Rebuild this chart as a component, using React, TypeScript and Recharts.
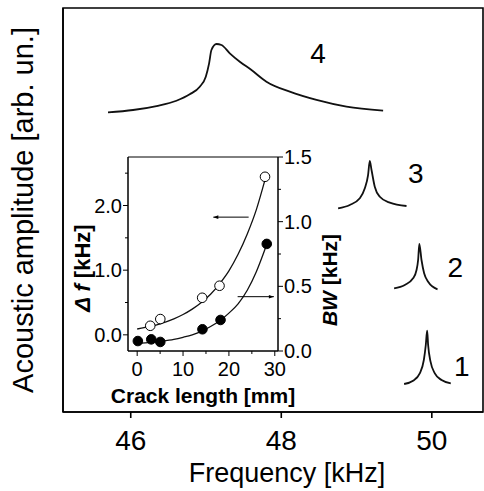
import React from 'react';
import {
  LineChart,
  ComposedChart,
  Line,
  Scatter,
  XAxis,
  YAxis,
  ReferenceArea,
  ReferenceDot,
  Label,
} from 'recharts';

const FONT = '"Liberation Sans", Arial, Helvetica, sans-serif';

// ---------- main chart data ----------
const freqTicks = [46, 48, 50];
const freqDomain = [45.1, 50.68];

const curve4 = [
  { f: 45.698, a: 74.18 },
  { f: 46.031, a: 74.75 },
  { f: 46.342, a: 75.74 },
  { f: 46.607, a: 77.05 },
  { f: 46.784, a: 78.64 },
  { f: 46.917, a: 80.52 },
  { f: 46.997, a: 83.0 },
  { f: 47.041, a: 86.31 },
  { f: 47.072, a: 89.6 },
  { f: 47.139, a: 91.09 },
  { f: 47.205, a: 90.84 },
  { f: 47.316, a: 88.79 },
  { f: 47.449, a: 86.71 },
  { f: 47.6, a: 84.7 },
  { f: 47.803, a: 81.76 },
  { f: 48.113, a: 79.28 },
  { f: 48.468, a: 77.23 },
  { f: 48.866, a: 75.57 },
  { f: 49.353, a: 74.58 },
];

const curve3 = [
  { f: 48.755, a: 50.42 },
  { f: 48.91, a: 51.24 },
  { f: 49.043, a: 52.9 },
  { f: 49.11, a: 55.37 },
  { f: 49.153, a: 58.66 },
  { f: 49.176, a: 62.13 },
  { f: 49.199, a: 59.9 },
  { f: 49.242, a: 55.77 },
  { f: 49.309, a: 53.29 },
  { f: 49.442, a: 51.81 },
  { f: 49.664, a: 50.99 },
];

const curve2 = [
  { f: 49.499, a: 30.62 },
  { f: 49.641, a: 31.44 },
  { f: 49.751, a: 33.09 },
  { f: 49.797, a: 35.15 },
  { f: 49.818, a: 37.62 },
  { f: 49.834, a: 41.58 },
  { f: 49.863, a: 37.62 },
  { f: 49.898, a: 34.33 },
  { f: 49.951, a: 32.25 },
  { f: 50.076, a: 30.37 },
];

const curve1 = [
  { f: 49.632, a: 6.93 },
  { f: 49.751, a: 7.75 },
  { f: 49.84, a: 9.58 },
  { f: 49.894, a: 12.87 },
  { f: 49.92, a: 16.58 },
  { f: 49.938, a: 20.12 },
  { f: 49.951, a: 16.58 },
  { f: 49.983, a: 12.45 },
  { f: 50.04, a: 9.58 },
  { f: 50.129, a: 7.92 },
  { f: 50.252, a: 7.1 },
];

const curveLabels = [
  { f: 48.49, a: 88.74, text: '4' },
  { f: 49.787, a: 59.03, text: '3' },
  { f: 50.312, a: 35.77, text: '2' },
  { f: 50.399, a: 11.39, text: '1' },
];

// ---------- inset data ----------
const crackDomain = [-2, 30.7];
const crackMajor = [0, 10, 20, 30];
const crackTicks = [0, 5, 10, 15, 20, 25, 30];
const dfDomain = [-0.25, 2.75];
const dfMajor = [0, 1, 2];
const dfTicks = [0, 0.5, 1, 1.5, 2, 2.5];
const bwDomain = [0, 1.5];
const bwMajor = [0, 0.5, 1, 1.5];
const bwTicks = [0, 0.25, 0.5, 0.75, 1, 1.25, 1.5];

const dfPoints = [
  { x: 2.85, y: 0.14 },
  { x: 5.04, y: 0.244 },
  { x: 14.17, y: 0.573 },
  { x: 17.95, y: 0.759 },
  { x: 27.87, y: 2.444 },
];

const bwPoints = [
  { x: 0.15, y: 0.077 },
  { x: 3.07, y: 0.09 },
  { x: 5.04, y: 0.07 },
  { x: 14.23, y: 0.168 },
  { x: 18.17, y: 0.24 },
  { x: 28.25, y: 0.828 },
];

const dfFit = [
  { x: 0, y: 0.09 },
  { x: 3, y: 0.133 },
  { x: 5, y: 0.171 },
  { x: 8, y: 0.247 },
  { x: 10, y: 0.314 },
  { x: 12, y: 0.398 },
  { x: 14, y: 0.501 },
  { x: 16, y: 0.627 },
  { x: 18, y: 0.793 },
  { x: 20, y: 0.99 },
  { x: 22, y: 1.245 },
  { x: 24, y: 1.56 },
  { x: 26, y: 1.94 },
  { x: 27.8, y: 2.38 },
];

const bwFit = [
  { x: 0, y: 0.06 },
  { x: 3, y: 0.067 },
  { x: 5, y: 0.075 },
  { x: 8, y: 0.09 },
  { x: 10, y: 0.106 },
  { x: 12, y: 0.125 },
  { x: 14, y: 0.152 },
  { x: 16, y: 0.189 },
  { x: 18, y: 0.234 },
  { x: 20, y: 0.293 },
  { x: 22, y: 0.365 },
  { x: 24, y: 0.47 },
  { x: 26, y: 0.615 },
  { x: 28, y: 0.8 },
];

const dfArrow = [
  { x: 16.6, y: 1.82 },
  { x: 24.3, y: 1.82 },
];
const bwArrow = [
  { x: 21.9, y: 0.42 },
  { x: 29.8, y: 0.42 },
];

// ---------- renderers ----------
const MainYLabel = (props: any) => {
  const vb = props.viewBox;
  const cx = 33;
  const cy = vb.y + vb.height / 2;
  return (
    <text
      x={cx}
      y={cy}
      transform={`rotate(-90 ${cx} ${cy})`}
      textAnchor="middle"
      fontFamily={FONT}
      fontSize={29}
      fill="#000"
    >
      Acoustic amplitude [arb. un.]
    </text>
  );
};

const MainXLabel = (props: any) => {
  const vb = props.viewBox;
  return (
    <text
      x={vb.x + vb.width / 2 + 14}
      y={vb.y + 70}
      textAnchor="middle"
      fontFamily={FONT}
      fontSize={27}
      fill="#000"
    >
      Frequency [kHz]
    </text>
  );
};

const InsetXTick = (props: any) => {
  const { x, y, payload } = props;
  const v = payload.value;
  const major = crackMajor.includes(v);
  return (
    <g>
      <line x1={x} x2={x} y1={y} y2={y + (major ? 5 : 3)} stroke="#000" strokeWidth={1} />
      {major && (
        <text x={x} y={y + 11} dy="0.71em" textAnchor="middle" fontFamily={FONT} fontSize={20} fill="#000">
          {v}
        </text>
      )}
    </g>
  );
};

const InsetDfTick = (props: any) => {
  const { x, y, payload } = props;
  const v = payload.value;
  const major = dfMajor.includes(v);
  return (
    <g>
      <line x1={x} x2={x - (major ? 5 : 3)} y1={y} y2={y} stroke="#000" strokeWidth={1} />
      {major && (
        <text x={x - 6} y={y} dy="0.355em" textAnchor="end" fontFamily={FONT} fontSize={20} fill="#000">
          {v.toFixed(1)}
        </text>
      )}
    </g>
  );
};

const InsetBwTick = (props: any) => {
  const { x, y, payload } = props;
  const v = payload.value;
  const major = bwMajor.includes(v);
  return (
    <g>
      <line x1={x} x2={x + (major ? 5 : 3)} y1={y} y2={y} stroke="#000" strokeWidth={1} />
      {major && (
        <text x={x + 6} y={y} dy="0.355em" textAnchor="start" fontFamily={FONT} fontSize={20} fill="#000">
          {v.toFixed(1)}
        </text>
      )}
    </g>
  );
};

const InsetXLabel = (props: any) => {
  const vb = props.viewBox;
  return (
    <text
      x={vb.x + vb.width / 2}
      y={vb.y + 52}
      textAnchor="middle"
      fontFamily={FONT}
      fontSize={21}
      fontWeight="bold"
      fill="#000"
    >
      Crack length [mm]
    </text>
  );
};

const InsetDfLabel = (props: any) => {
  const cx = 90;
  const cy = 268;
  return (
    <text
      x={cx}
      y={cy}
      transform={`rotate(-90 ${cx} ${cy})`}
      textAnchor="middle"
      fontFamily={FONT}
      fontSize={22}
      fontWeight="bold"
      fill="#000"
    >
      <tspan fontStyle="italic">Δ f</tspan>
      <tspan> [kHz]</tspan>
    </text>
  );
};

const InsetBwLabel = (props: any) => {
  const cx = 337;
  const cy = 280;
  return (
    <text
      x={cx}
      y={cy}
      transform={`rotate(-90 ${cx} ${cy})`}
      textAnchor="middle"
      fontFamily={FONT}
      fontSize={21}
      fontWeight="bold"
      fill="#000"
    >
      <tspan fontStyle="italic">BW</tspan>
      <tspan> [kHz]</tspan>
    </text>
  );
};

const leftHead = (p: any) =>
  p.index === 0 ? (
    <path key={`lh${p.index}`} d={`M${p.cx},${p.cy} l5,-1.8 l0,3.6 z`} fill="#000" />
  ) : (
    <g key={`lh${p.index}`} />
  );

const rightHead = (p: any) =>
  p.index === 1 ? (
    <path key={`rh${p.index}`} d={`M${p.cx},${p.cy} l-5,-1.8 l0,3.6 z`} fill="#000" />
  ) : (
    <g key={`rh${p.index}`} />
  );

const OpenCircle = (p: any) => (
  <circle cx={p.cx} cy={p.cy} r={4.8} fill="#fff" stroke="#000" strokeWidth={1} />
);
const FilledCircle = (p: any) => <circle cx={p.cx} cy={p.cy} r={4.8} fill="#000" stroke="#000" />;

export default function App() {
  const W = 484;
  const H = 491;
  const lineStroke = '#111';
  return (
    <div style={{ position: 'absolute', left: 0, top: 0, width: W, height: H, background: '#fff' }}>
      <div style={{ position: 'absolute', left: 0, top: 0 }}>
        <LineChart width={W} height={H} margin={{ top: 8, right: 1, left: 0, bottom: 0 }}>
          <XAxis
            type="number"
            dataKey="f"
            domain={freqDomain}
            allowDataOverflow
            ticks={freqTicks}
            interval={0}
            height={79}
            tickSize={6}
            tickMargin={12}
            stroke="#000"
            strokeWidth={1.6}
            tick={{ fill: '#000', fontSize: 28, fontFamily: FONT }}
            label={<Label content={MainXLabel} />}
          />
          <YAxis
            type="number"
            domain={[0, 100]}
            allowDataOverflow
            width={63}
            tick={false}
            tickLine={false}
            stroke="#000"
            strokeWidth={1.6}
            label={<Label content={MainYLabel} />}
          />
          <ReferenceArea
            x1={freqDomain[0]}
            x2={freqDomain[1]}
            y1={0}
            y2={100}
            stroke="#000"
            strokeWidth={1.6}
            fill="none"
            fillOpacity={0}
          />
          {[curve4, curve3, curve2, curve1].map((c, i) => (
            <Line
              key={i}
              data={c}
              dataKey="a"
              type="monotone"
              stroke={lineStroke}
              strokeWidth={1.8}
              dot={false}
              isAnimationActive={false}
            />
          ))}
          {curveLabels.map((l) => (
            <ReferenceDot
              key={l.text}
              x={l.f}
              y={l.a}
              r={0}
              stroke="none"
              fill="none"
              label={{ value: l.text, position: 'center', fontSize: 28, fill: '#000', fontFamily: FONT }}
            />
          ))}
        </LineChart>
      </div>
      <div style={{ position: 'absolute', left: 0, top: 0 }}>
        <ComposedChart width={W} height={H} margin={{ top: 157, right: 156, left: 68, bottom: 85 }}>
          <XAxis
            type="number"
            dataKey="x"
            domain={crackDomain}
            allowDataOverflow
            ticks={crackTicks}
            interval={0}
            height={55}
            tickSize={0}
            tickMargin={0}
            tickLine={false}
            stroke="#000"
            tick={<InsetXTick />}
            label={<Label content={InsetXLabel} />}
          />
          <YAxis
            yAxisId="df"
            orientation="left"
            type="number"
            domain={dfDomain}
            allowDataOverflow
            ticks={dfTicks}
            interval={0}
            width={60}
            tickSize={0}
            tickMargin={0}
            tickLine={false}
            stroke="#000"
            tick={<InsetDfTick />}
            label={<Label content={InsetDfLabel} />}
          />
          <YAxis
            yAxisId="bw"
            orientation="right"
            type="number"
            domain={bwDomain}
            allowDataOverflow
            ticks={bwTicks}
            interval={0}
            width={50}
            tickSize={0}
            tickMargin={0}
            tickLine={false}
            stroke="#000"
            tick={<InsetBwTick />}
            label={<Label content={InsetBwLabel} />}
          />
          <ReferenceArea
            yAxisId="df"
            x1={crackDomain[0]}
            x2={crackDomain[1]}
            y1={dfDomain[0]}
            y2={dfDomain[1]}
            stroke="#000"
            strokeWidth={1}
            fill="none"
            fillOpacity={0}
          />
          <Line yAxisId="df" data={dfFit} dataKey="y" type="monotone" stroke={lineStroke} strokeWidth={1.3} dot={false} isAnimationActive={false} />
          <Line yAxisId="bw" data={bwFit} dataKey="y" type="monotone" stroke={lineStroke} strokeWidth={1.3} dot={false} isAnimationActive={false} />
          <Line yAxisId="df" data={dfArrow} dataKey="y" stroke="#000" strokeWidth={1} dot={leftHead} isAnimationActive={false} />
          <Line yAxisId="bw" data={bwArrow} dataKey="y" stroke="#000" strokeWidth={1} dot={rightHead} isAnimationActive={false} />
          <Scatter yAxisId="df" data={dfPoints} dataKey="y" shape={OpenCircle} isAnimationActive={false} />
          <Scatter yAxisId="bw" data={bwPoints} dataKey="y" shape={FilledCircle} isAnimationActive={false} />
        </ComposedChart>
      </div>
    </div>
  );
}
